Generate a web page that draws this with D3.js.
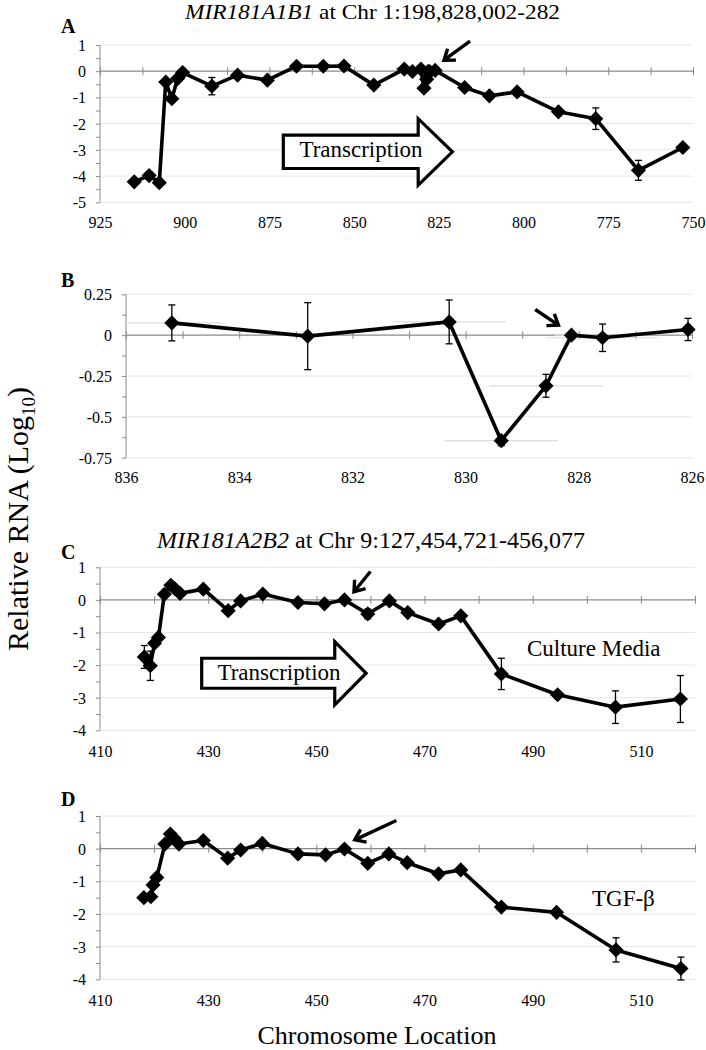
<!DOCTYPE html>
<html>
<head>
<meta charset="utf-8">
<script src="https://cdn.jsdelivr.net/npm/d3@7"></script>
<style>
  html, body { margin: 0; padding: 0; background: #fff; }
  svg { display: block; }
</style>
</head>
<body>
<svg id="chart" width="706" height="1050"></svg>
<script>
// ---------- DATA ----------
// Panel A: MIR181A1B1 (x = chromosome location, kb; y = relative RNA log10)
const aX   = [914.9, 910.5, 907.5, 905.6, 903.8, 902.1, 900.6, 892.0, 884.4, 875.6, 867.0, 859.1, 853.0, 844.2,
              835.2, 832.8, 830.3, 829.4, 828.6, 828.1, 827.6, 826.1, 817.4, 810.1, 801.9, 789.7, 778.7, 766.1, 753.0];
const aY   = [-4.22, -3.98, -4.25, -0.41, -1.05, -0.28, -0.05, -0.57, -0.15, -0.34, 0.19, 0.19, 0.20, -0.53,
              0.08, -0.01, 0.08, -0.65, -0.31, 0.0, -0.02, 0.03, -0.62, -0.94, -0.79, -1.55, -1.81, -3.78, -2.91];
const aErr = [0, 0.15, 0, 0, 0, 0, 0, 0.33, 0, 0, 0, 0, 0, 0,
              0, 0, 0, 0, 0, 0, 0, 0, 0, 0, 0, 0, 0.41, 0.38, 0];
const aXTicks = [925, 900, 875, 850, 825, 800, 775, 750];
const aYTicks = [1, 0, -1, -2, -3, -4, -5];

// Panel B: close-up 836-826
const bX    = [835.19, 832.79, 830.29, 829.37, 828.58, 828.13, 827.58, 826.07];
const bY    = [0.075, -0.006, 0.081, -0.646, -0.31, 0.0, -0.016, 0.035];
const bErr  = [0.11, 0.205, 0.134, 0.03, 0.07, 0.0, 0.084, 0.068];
const bXErr = [0.88, 0, 1.0, 1.0, 1.0, 0.3, 1.0, 0.3];
const bXTicks = [836, 834, 832, 830, 828, 826];
const bYTicks = [0.25, 0, -0.25, -0.5, -0.75];

// Panel C: MIR181A2B2, culture media
const cX   = [418.2, 419.3, 420.1, 420.8, 421.9, 423.1, 423.8, 424.8, 429.1, 433.7, 436.0, 440.1, 446.6, 451.5,
              455.2, 459.5, 463.5, 466.9, 472.6, 476.7, 484.2, 494.6, 505.3, 517.3];
const cY   = [-1.75, -2.02, -1.33, -1.15, 0.17, 0.45, 0.35, 0.20, 0.33, -0.33, -0.03, 0.18, -0.08, -0.12,
              0.0, -0.43, -0.03, -0.39, -0.74, -0.49, -2.27, -2.91, -3.29, -3.04];
const cErr = [0.35, 0.45, 0, 0, 0, 0, 0, 0, 0, 0, 0, 0, 0, 0,
              0, 0.15, 0, 0, 0, 0, 0.48, 0.1, 0.5, 0.72];
const cXTicks = [410, 430, 450, 470, 490, 510];
const cYTicks = [1, 0, -1, -2, -3, -4];

// Panel D: MIR181A2B2, TGF-beta
const dX   = [418.1, 419.4, 419.8, 420.5, 422.0, 423.0, 423.7, 424.6, 429.1, 433.6, 436.0, 440.0, 446.6, 451.7,
              455.2, 459.5, 463.4, 466.8, 472.6, 476.7, 484.2, 494.4, 505.4, 517.4];
const dY   = [-1.50, -1.47, -1.11, -0.88, 0.14, 0.45, 0.32, 0.14, 0.25, -0.29, -0.04, 0.16, -0.16, -0.19,
              -0.01, -0.45, -0.16, -0.43, -0.77, -0.65, -1.79, -1.95, -3.10, -3.67];
const dErr = [0, 0, 0, 0, 0, 0, 0, 0, 0, 0, 0, 0, 0, 0,
              0, 0, 0, 0, 0, 0, 0, 0, 0.37, 0.35];
const dXTicks = [410, 430, 450, 470, 490, 510];
const dYTicks = [1, 0, -1, -2, -3, -4];

// ---------- DRAW ----------
const SERIF = "'Liberation Serif', 'Times New Roman', 'DejaVu Serif', serif";
const svg = d3.select("#chart");
const AXIS = "#8a8a8a", GRID = "#e6e6e6";

function panel(cfg) {
  const x = d3.scaleLinear().domain(cfg.xDomain).range(cfg.xRange);
  const y = d3.scaleLinear().domain(cfg.yDomain).range(cfg.yRange);
  const g = svg.append("g");
  const x0 = cfg.xRange[0], x1 = cfg.xRange[1];

  // gridlines
  g.append("g").selectAll("line").data(cfg.yTicks.filter(v => v !== 0)).join("line")
    .attr("x1", x0).attr("x2", x1).attr("y1", d => y(d)).attr("y2", d => y(d))
    .attr("stroke", GRID).attr("stroke-width", 1);

  // y axis with minor ticks
  const minor = d3.range(cfg.yDomain[1], cfg.yDomain[0] + 1e-9, cfg.yMinor);
  g.append("g").attr("transform", `translate(${x0},0)`)
    .call(d3.axisLeft(y).tickValues(minor).tickSize(4).tickFormat(""))
    .call(s => s.select(".domain").attr("stroke", AXIS).attr("d", `M0,${cfg.yRange[0]}V${cfg.yRange[1]}`))
    .call(s => s.selectAll(".tick line").attr("stroke", AXIS));
  g.append("g").attr("transform", `translate(${x0 - 14},0)`)
    .call(d3.axisLeft(y).tickValues(cfg.yTicks).tickSize(0).tickPadding(0).tickFormat(d => String(d)))
    .call(s => s.select(".domain").remove())
    .call(s => s.selectAll("text").attr("dy", "0.34em"));

  // zero line with crossing ticks
  const y0 = y(0);
  g.append("line").attr("x1", x0).attr("x2", x1).attr("y1", y0).attr("y2", y0)
    .attr("stroke", AXIS).attr("stroke-width", 1.3);
  const xt = d3.range(Math.min(...cfg.xDomain), Math.max(...cfg.xDomain) + 1e-9, cfg.xMinor);
  g.append("g").attr("transform", `translate(0,${y0 - 4})`)
    .call(d3.axisBottom(x).tickValues(xt).tickSize(8).tickFormat(""))
    .call(s => s.select(".domain").remove())
    .call(s => s.selectAll(".tick line").attr("stroke", AXIS));

  // x tick labels at the bottom
  g.append("g").attr("transform", `translate(0,${cfg.xLabelY})`)
    .call(d3.axisBottom(x).tickValues(cfg.xTicks).tickSize(0).tickPadding(0).tickFormat(d => String(d)))
    .call(s => s.select(".domain").remove())
    .call(s => s.selectAll("text").attr("dy", "0"));

  g.selectAll(".tick text").attr("font-size", null).style("font-size", "16px");

  const pts = cfg.xs.map((v, i) => ({x: v, y: cfg.ys[i], e: cfg.errs[i], xe: cfg.xErrs ? cfg.xErrs[i] : 0}));

  // horizontal (x) error bars, faint
  if (cfg.xErrs) {
    g.append("g").selectAll("line").data(pts.filter(p => p.xe > 0)).join("line")
      .attr("stroke", "#dcdcdc").attr("stroke-width", 1.2)
      .attr("x1", d => Math.max(x0, Math.min(x1, x(d.x - d.xe)))).attr("x2", d => Math.max(x0, Math.min(x1, x(d.x + d.xe))))
      .attr("y1", d => y(d.y)).attr("y2", d => y(d.y));
  }

  // vertical error bars
  const eb = g.append("g").selectAll("g").data(pts.filter(p => p.e > 0)).join("g")
    .attr("stroke", "#000").attr("stroke-width", 1.3);
  eb.append("line").attr("x1", d => x(d.x)).attr("x2", d => x(d.x))
    .attr("y1", d => y(d.y + d.e)).attr("y2", d => y(d.y - d.e));
  eb.append("line").attr("x1", d => x(d.x) - 3.5).attr("x2", d => x(d.x) + 3.5)
    .attr("y1", d => y(d.y + d.e)).attr("y2", d => y(d.y + d.e));
  eb.append("line").attr("x1", d => x(d.x) - 3.5).attr("x2", d => x(d.x) + 3.5)
    .attr("y1", d => y(d.y - d.e)).attr("y2", d => y(d.y - d.e));

  // line
  const sorted = pts.slice().sort((a, b) => a.x - b.x);
  g.append("path").datum(sorted)
    .attr("d", d3.line().x(d => x(d.x)).y(d => y(d.y)))
    .attr("fill", "none").attr("stroke", "#000").attr("stroke-width", 3.6)
    .attr("stroke-linejoin", "round");

  // diamonds
  const sym = d3.symbol(d3.symbolSquare, 115);
  g.append("g").selectAll("path").data(pts).join("path")
    .attr("d", sym)
    .attr("transform", d => `translate(${x(d.x)},${y(d.y)}) rotate(45)`)
    .attr("fill", "#000");

  // panel letter
  svg.append("text").attr("x", 61).attr("y", cfg.letterY).text(cfg.letter)
    .style("font-size", "20px").style("font-weight", "bold");

  return {x, y, g};
}

function pointer(p, tail, tip) {
  const x1 = p.x(tail[0]), y1 = p.y(tail[1]), x2 = p.x(tip[0]), y2 = p.y(tip[1]);
  const ang = Math.atan2(y2 - y1, x2 - x1);
  const L = 12, w = Math.PI / 5;
  const h1 = [x2 - L * Math.cos(ang - w), y2 - L * Math.sin(ang - w)];
  const h2 = [x2 - L * Math.cos(ang + w), y2 - L * Math.sin(ang + w)];
  p.g.append("path")
    .attr("d", `M${x1},${y1}L${x2},${y2}M${h1[0]},${h1[1]}L${x2},${y2}L${h2[0]},${h2[1]}`)
    .attr("fill", "none").attr("stroke", "#000").attr("stroke-width", 3.4)
    .attr("stroke-linecap", "butt").attr("stroke-linejoin", "miter");
}

function bigArrow(p, left, base, tip, bodyTop, bodyBot, headTop, headBot, tx, ty) {
  const X = p.x, Y = p.y;
  const midY = (Y(bodyTop) + Y(bodyBot)) / 2;
  const d = `M${X(left)},${Y(bodyTop)}H${X(base)}V${Y(headTop)}L${X(tip)},${midY}L${X(base)},${Y(headBot)}V${Y(bodyBot)}H${X(left)}Z`;
  p.g.append("path").attr("d", d).attr("fill", "#fff").attr("stroke", "#000").attr("stroke-width", 3.2)
    .attr("stroke-linejoin", "miter");
  p.g.append("text").attr("x", tx).attr("y", ty).attr("text-anchor", "middle")
    .style("font-size", "23px").text("Transcription");
}

const A = panel({xs: aX, ys: aY, errs: aErr, xDomain: [925, 750], xRange: [100, 693],
  yDomain: [1, -5], yRange: [45, 202.3], xTicks: aXTicks, yTicks: aYTicks, xMinor: 12.5, yMinor: 0.5,
  xLabelY: 228, letter: "A", letterY: 33});
const B = panel({xs: bX, ys: bY, errs: bErr, xErrs: bXErr, xDomain: [836, 826], xRange: [126, 692],
  yDomain: [0.25, -0.75], yRange: [294.3, 457.7], xTicks: bXTicks, yTicks: bYTicks, xMinor: 1, yMinor: 0.125,
  xLabelY: 483, letter: "B", letterY: 287});
const C = panel({xs: cX, ys: cY, errs: cErr, xDomain: [410, 520], xRange: [100, 695],
  yDomain: [1, -4], yRange: [567.3, 730.3], xTicks: cXTicks, yTicks: cYTicks, xMinor: 10, yMinor: 0.5,
  xLabelY: 757, letter: "C", letterY: 559});
const D = panel({xs: dX, ys: dY, errs: dErr, xDomain: [410, 520], xRange: [100, 695],
  yDomain: [1, -4], yRange: [816, 979.3], xTicks: dXTicks, yTicks: dYTicks, xMinor: 10, yMinor: 0.5,
  xLabelY: 1006, letter: "D", letterY: 806});

// pointer arrows (data coordinates)
pointer(A, [815.8, 1.15], [823.5, 0.42]);
pointer(B, [828.77, 0.157], [828.36, 0.061]);
pointer(C, [460.0, 0.87], [456.95, 0.25]);
pointer(D, [464.8, 0.86], [457.1, 0.27]);

// Transcription arrows
bigArrow(A, 870.9, 831.1, 821.0, -2.44, -3.71, -1.81, -4.35, 361, 157);
bigArrow(C, 428.8, 453.4, 459.2, -1.79, -2.71, -1.28, -3.22, 279, 680);

// panel annotations
svg.append("text").attr("x", 527).attr("y", 656).style("font-size", "23px").text("Culture Media");
svg.append("text").attr("x", 592).attr("y", 906).style("font-size", "23px").text("TGF-β");

// titles
const tA = svg.append("text").attr("x", 372.5).attr("y", 19).attr("text-anchor", "middle")
  .style("font-size", "21px").attr("textLength", 375).attr("lengthAdjust", "spacingAndGlyphs");
tA.append("tspan").style("font-style", "italic").text("MIR181A1B1");
tA.append("tspan").text(" at Chr 1:198,828,002-282");
const tC = svg.append("text").attr("x", 371).attr("y", 548).attr("text-anchor", "middle").style("font-size", "24px");
tC.append("tspan").style("font-style", "italic").text("MIR181A2B2");
tC.append("tspan").text(" at Chr 9:127,454,721-456,077");

// axis titles
const yt = svg.append("text").attr("transform", "translate(28,519) rotate(-90)").attr("text-anchor", "middle")
  .style("font-size", "30px");
yt.append("tspan").text("Relative RNA (Log");
yt.append("tspan").attr("dy", 7).style("font-size", "19px").text("10");
yt.append("tspan").attr("dy", -7).text(")");
svg.append("text").attr("x", 377).attr("y", 1044).attr("text-anchor", "middle").style("font-size", "26px")
  .text("Chromosome Location");

// serif font everywhere
svg.selectAll("text").attr("font-family", null).style("font-family", SERIF).style("fill", "#000");
svg.selectAll("g").attr("font-family", null);
</script>
</body>
</html>
